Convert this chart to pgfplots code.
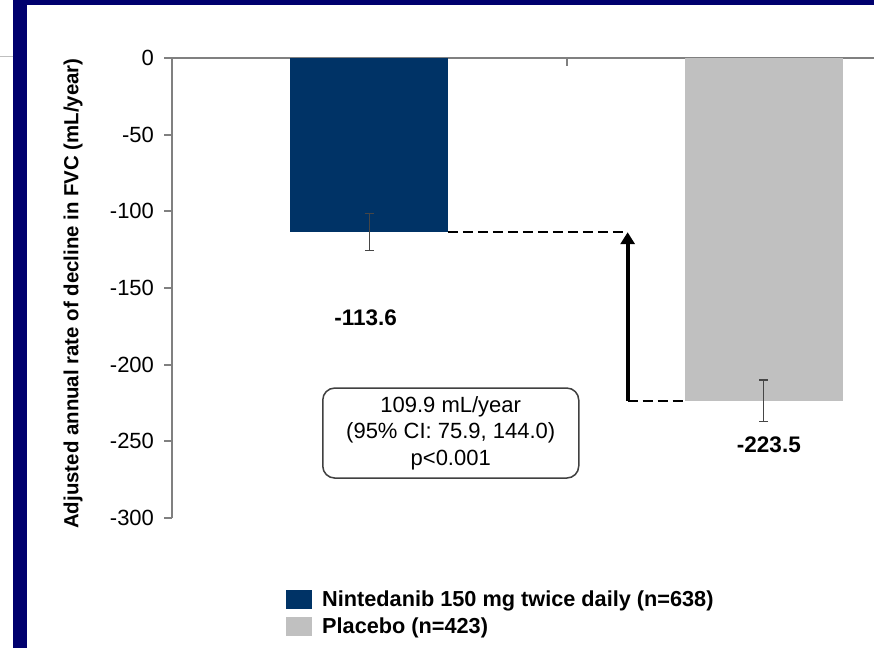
\documentclass[border=0pt]{standalone}
\usepackage{pgfplots}
\pgfplotsset{compat=1.18}
\usepackage{fontspec}
\setmainfont{Liberation Sans}
\usetikzlibrary{arrows.meta}
\definecolor{navyframe}{RGB}{0,0,110}
\definecolor{barnavy}{RGB}{0,51,102}
\definecolor{bargray}{RGB}{192,192,192}
\definecolor{axgray}{RGB}{128,128,128}
\definecolor{errgray}{RGB}{70,70,70}
\begin{document}
\begin{tikzpicture}
\useasboundingbox (0pt,0pt) rectangle (874pt,648pt);
\fill[white] (0pt,0pt) rectangle (874pt,648pt);
\fill[navyframe] (13pt,0pt) rectangle (27pt,648pt);
\fill[navyframe] (13pt,643pt) rectangle (874pt,648pt);
\draw[gray!50, line width=1pt] (0pt,591pt) -- (13pt,591pt);
\begin{axis}[
  at={(172pt,130pt)}, anchor=south west,
  scale only axis, width=702pt, height=460pt,
  xmin=-0.5, xmax=1.2795, ymin=-300, ymax=0,
  clip=false,
  axis x line*=top, axis y line*=left,
  axis line style={axgray, line width=2.5pt},
  xtick=\empty,
  ytick={-300,-250,-200,-150,-100,-50,0},
  yticklabels={-300,-250,-200,-150,-100,-50,0},
  tick align=outside,
  major tick length=8pt,
  ytick style={axgray, line width=2pt},
  yticklabel style={font=\fontsize{22}{26}\selectfont, xshift=-6.5pt},
  ylabel={Adjusted annual rate of decline in FVC (mL/year)},
  ylabel style={at={(axis description cs:-0.141,0.488)}, anchor=center, font=\fontsize{20.4}{24}\selectfont\bfseries},
  ybar, bar width=158pt, bar shift=0pt,
  legend image code/.code={\fill[#1] (0pt,-9.5pt) rectangle (26pt,9.5pt); \path (34pt,0pt);},
  legend cell align=left,
  legend style={at={(axis description cs:0.1624,-0.1544)}, anchor=north west,
    draw=none, fill=none, inner sep=0pt, row sep=5.5pt,
    font=\fontsize{21.7}{25}\selectfont\bfseries,
    nodes={inner sep=2pt}},
]
\addplot[fill=barnavy, draw=none,
  error bars/.cd, y dir=both, y explicit,
  error bar style={draw=errgray, line width=1.2pt},
  error mark options={rotate=90, draw=errgray, mark size=4.5pt, line width=1.2pt}]
  coordinates {(0,-113.6) +- (0,12)};
\addlegendentry{Nintedanib 150 mg twice daily (n=638)}
\addplot[fill=bargray, draw=none,
  error bars/.cd, y dir=both, y explicit,
  error bar style={draw=errgray, line width=1.2pt},
  error mark options={rotate=90, draw=errgray, mark size=4.5pt, line width=1.2pt}]
  coordinates {(1,-223.5) +- (0,13.5)};
\addlegendentry{Placebo (n=423)}
\draw[axgray, line width=2pt] (axis cs:0.5,0) -- ++(0pt,-8pt);
\draw[black, line width=2pt, dash pattern=on 10pt off 5pt] (axis cs:0.199,-113.6) -- (axis cs:0.655,-113.6);
\draw[black, line width=2pt, dash pattern=on 10pt off 5pt] (axis cs:0.655,-223.5) -- (axis cs:0.797,-223.5);
\draw[black, line width=4pt, -{Triangle[width=14pt,length=12pt]}] (axis cs:0.655,-223.5) -- (axis cs:0.655,-113.6);
\node[draw=black!75, line width=1.5pt, rounded corners=12pt, minimum width=256pt, minimum height=90pt,
  align=center, font=\fontsize{22}{26.5}\selectfont] at (axis cs:0.2066,-244.6)
  {109.9 mL/year\\(95\% CI: 75.9, 144.0)\\p<0.001};
\node[font=\fontsize{22.5}{27}\selectfont\bfseries] at (axis cs:-0.009,-169.6) {-113.6};
\node[font=\fontsize{22.5}{27}\selectfont\bfseries] at (axis cs:1.013,-252.4) {-223.5};
\end{axis}
\end{tikzpicture}
\end{document}
